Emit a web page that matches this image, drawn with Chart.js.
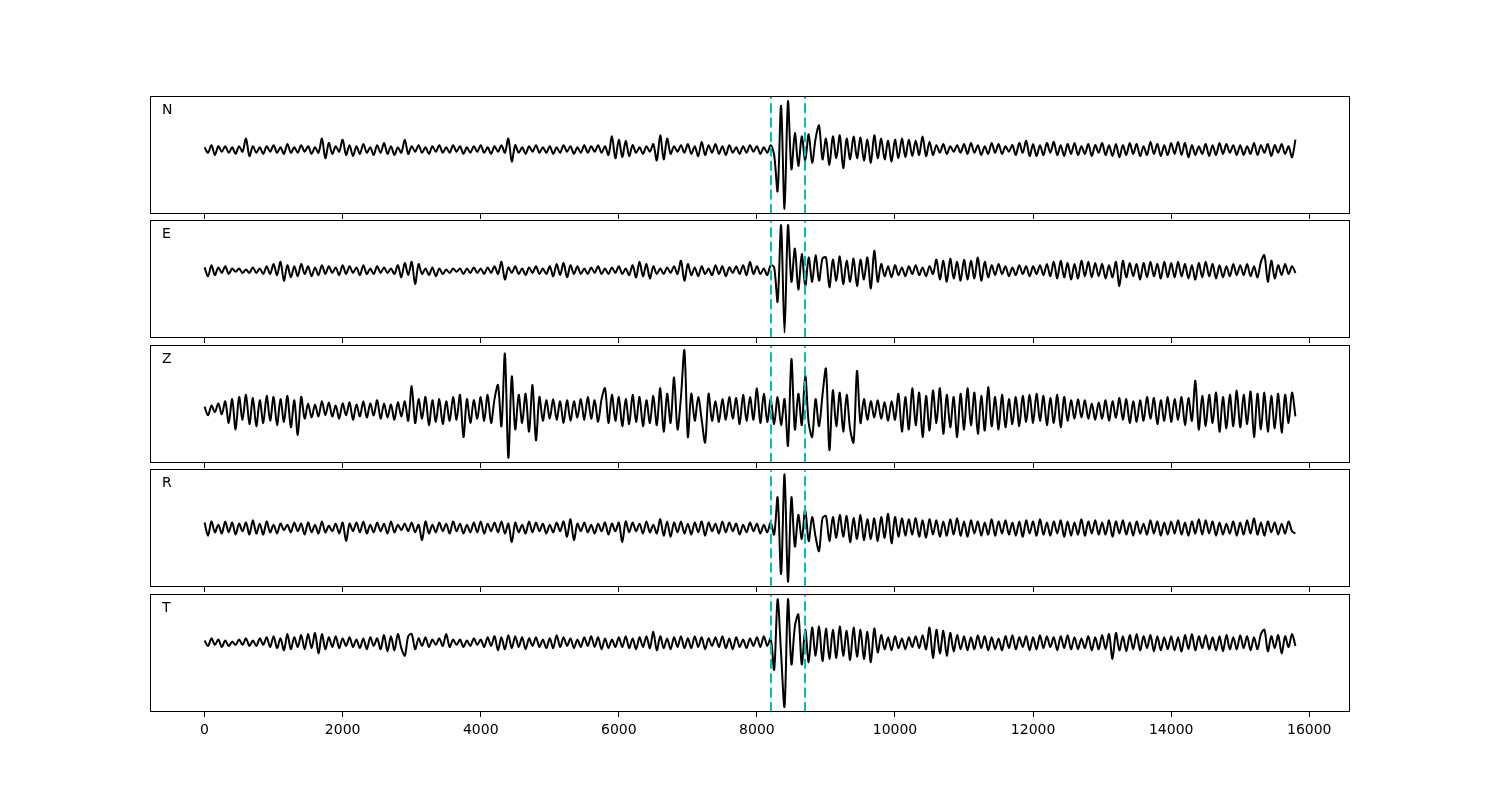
<!DOCTYPE html>
<html lang="en">
<head>
  <meta charset="UTF-8" />
  <title>Three-component record with picks</title>
  <script src="https://cdn.jsdelivr.net/npm/chart.js"></script>
  <style>
    body { margin: 0; background: #fff; }
    #fig { position: relative; width: 1500px; height: 800px; background: #fff; }
    .panel { position: absolute; left: 150px; width: 1200px; }
  </style>
</head>
<body>
  <div id="fig"></div>

  <script>
    // sample spacing of the traces below (x units)
    const step = 50;
    const components = ['N', 'E', 'Z', 'R', 'T'];
    const picks = [8200, 8700];
    const xTicks = [0, 2000, 4000, 6000, 8000, 10000, 12000, 14000, 16000];

    // amplitudes, one row per 1000 x units
    const traceN = [
      2,-3,4,-5,3,-2,3,-3,2,-4,3,-2,10,-6,3,-3,2,-4,3,-2,
      4,-3,2,-4,5,-3,2,-3,4,-2,3,-4,2,-3,10,-8,6,-4,3,-2,
      9,-5,4,-6,3,-4,5,-3,2,-5,4,-3,6,-4,3,-5,2,-3,9,-4,
      3,-2,4,-3,2,-4,3,-2,4,-3,2,-3,4,-2,3,-4,2,-3,3,-2,
      4,-3,2,-4,3,-2,4,-3,10,-11,4,-3,2,-4,3,-2,4,-3,2,-3,
      3,-4,2,-3,4,-2,3,-4,2,-3,4,-3,3,-2,4,-3,3,-5,12,-8,
      9,-7,8,-6,4,-3,2,-4,3,-2,5,-10,13,-9,10,-4,3,-2,4,-3,
      5,-4,3,-6,7,-5,4,-3,5,-4,3,-5,4,-3,2,-4,3,-3,4,-2,
      3,-4,2,-3,4,-5,-38,40,-54,44,-18,15,-15,12,-10,14,-12,10,22,-9,
      10,-14,12,-8,13,-17,10,-9,12,-8,11,-10,9,-12,13,-8,10,-9,8,-11,
      9,-8,10,-7,9,-6,8,-5,12,-6,7,-5,4,-3,5,-4,3,-2,4,-3,
      5,-4,6,-3,4,-5,3,-4,6,-3,5,-4,3,-2,4,-5,6,-3,8,-6,
      5,-6,4,-5,6,-3,7,-5,4,-6,5,-4,6,-5,3,-4,5,-6,4,-3,
      6,-5,4,-6,5,-7,4,-5,6,-4,5,-6,3,-5,7,-4,5,-6,4,-5,
      6,-4,7,-5,6,-7,4,-5,3,-4,5,-6,4,-5,6,-4,5,-3,4,-5,
      4,-5,3,-4,6,-5,4,-3,5,-6,4,-3,5,-4,3,-7,9
    ];
    const traceE = [
      3,-5,5,-4,3,-2,4,-3,2,-1,2,-2,1,-2,3,-2,2,-3,4,-3,
      6,-4,8,-9,5,-6,4,-5,6,-3,4,-5,3,-4,5,-3,4,-2,3,-4,
      5,-3,4,-2,3,-4,5,-3,2,-3,4,-2,3,-2,2,-3,5,-6,7,-4,
      8,-12,6,-3,2,-4,3,-5,2,-3,1,-2,2,-1,2,-3,2,-2,3,-2,
      2,-3,3,-2,4,-3,8,-8,3,-2,4,-3,2,-4,3,-2,4,-3,2,-3,
      4,-5,6,-4,7,-6,5,-3,4,-3,2,-3,3,-2,4,-3,2,-3,3,-2,
      4,-3,2,-4,5,-6,8,-5,6,-7,4,-3,2,-3,3,-2,4,-3,9,-9,
      6,-4,3,-5,4,-3,2,-4,5,-3,4,-5,3,-2,4,-3,5,-4,8,-3,
      4,-3,2,-4,5,3,-28,41,-56,41,-10,20,-17,15,-14,12,-10,14,-9,11,
      12,-15,10,-9,13,-12,9,-10,11,-14,10,-8,12,-16,18,-10,6,-5,4,-6,
      5,-4,3,-5,4,-3,5,-4,3,-5,4,-3,10,-8,9,-10,11,-7,8,-9,
      10,-8,9,-7,12,-9,8,-6,5,-4,6,-3,4,-5,3,-4,5,-3,4,-5,
      4,-3,5,-4,6,-5,8,-7,9,-6,7,-8,6,-7,9,-5,8,-6,7,-5,
      6,-7,5,-6,8,-14,9,-6,7,-5,6,-8,7,-6,8,-5,6,-7,8,-6,
      7,-6,8,-5,6,-7,5,-8,7,-6,8,-5,6,-7,5,-6,4,-5,6,-4,
      5,-4,6,-5,4,-6,8,14,-10,9,-7,5,-4,6,-3,4,-2
    ];
    const traceZ = [
      3,-5,4,-2,6,-4,8,-12,10,-18,12,-9,14,-13,11,-15,9,-12,13,-10,
      12,-14,10,-11,13,-16,9,-23,12,-8,6,-7,5,-6,8,-5,7,-6,4,-8,
      6,-5,7,-9,5,-6,8,-7,6,-5,9,-8,6,-7,5,-9,7,-6,8,-10,
      22,-12,10,-8,12,-14,9,-11,10,-13,8,-10,12,-9,14,-25,10,-12,9,-8,
      12,-10,14,-12,10,23,-15,52,-44,31,-18,14,-12,15,-20,23,-28,12,-10,9,
      -8,10,-9,8,-12,9,-10,8,-7,10,-9,12,-8,9,-11,10,20,-12,14,-10,
      12,-15,10,-13,14,-11,12,-15,9,-12,13,-14,20,-20,15,-12,30,-18,12,55,
      -25,15,-10,12,-9,-30,15,-10,8,-11,10,-9,12,-8,11,-13,14,-10,12,-9,
      20,-12,15,-11,10,-13,12,-14,10,-33,47,-18,15,-14,32,-12,-25,10,-15,14,
      38,-37,18,-15,16,-20,14,-18,-30,36,-12,10,-9,8,-7,9,-8,7,-10,8,
      -9,15,-20,12,-18,20,-14,16,-25,13,-19,18,-12,20,-22,14,-16,12,-25,15,
      -18,20,-14,16,-22,13,-19,21,-15,12,-18,14,-16,10,-13,12,-15,13,-11,14,
      -12,15,-10,13,-14,11,-12,14,-16,12,-10,9,-8,10,-7,9,-8,6,-9,7,
      -8,9,-10,8,-7,11,-9,10,-12,8,-11,9,-10,12,-8,11,-13,9,-10,12,
      -11,10,-9,12,-14,11,-10,27,-18,13,-15,14,-12,16,-20,12,-17,14,-15,18,
      -16,14,-13,17,-25,15,-18,16,-20,13,-17,15,-21,14,-12,16,-6
    ];
    const traceR = [
      5,-7,6,-4,3,-5,6,-4,5,-6,4,-3,5,-6,7,-5,4,-6,6,-4,
      3,-5,4,-2,3,-4,5,-3,4,-6,5,-4,3,-5,6,-4,2,-3,4,-5,
      5,-12,4,-3,5,-4,6,-5,3,-4,5,-3,4,-5,6,-4,3,-2,4,-3,
      5,-4,3,-11,6,-5,3,-4,5,-3,4,-5,6,-3,4,-5,3,-4,5,-4,
      6,-5,4,-3,5,-4,6,-5,4,-13,5,-4,3,-5,6,-4,5,-3,4,-5,
      3,-4,5,-3,6,-8,8,-11,4,-3,5,-4,3,-5,4,-3,5,-6,4,-3,
      5,-13,6,-4,5,-3,4,-5,6,-4,3,-5,8,-7,6,-8,5,-4,6,-5,
      4,-6,5,-4,6,-7,5,-3,4,-5,6,-4,5,-3,4,-6,3,-4,5,-3,
      4,-5,3,-4,5,-6,28,-42,49,-49,28,-17,12,-10,17,-12,10,-8,-21,9,
      11,-12,10,-9,12,-8,11,-13,9,-10,12,-11,8,-10,9,-12,10,-9,13,-14,
      10,-8,9,-7,8,-6,9,-8,7,-9,8,-6,7,-8,6,-7,8,-6,9,-7,
      6,-8,7,-5,6,-7,5,-6,8,-7,6,-5,7,-6,5,-7,6,-8,7,-5,
      6,-7,8,-6,5,-7,6,-5,7,-8,6,-7,5,-6,8,-7,6,-5,7,-6,
      5,-6,7,-8,6,-5,7,-6,5,-7,6,-5,4,-6,7,-5,6,-7,5,-6,
      6,-5,7,-6,5,-7,6,-5,8,-6,7,-5,6,-7,5,-6,4,-5,6,-7,
      5,-6,7,-5,9,-6,5,-7,6,-4,5,-6,4,-5,6,-3,-5
    ];
    const traceT = [
      2,-3,4,-2,3,-4,2,-3,1,-2,3,-2,4,-3,2,-3,4,-2,5,-4,
      6,-5,4,-7,8,-6,5,-4,7,-6,8,-5,9,-10,8,-6,5,-4,6,-5,
      4,-3,5,-4,3,-5,4,-6,5,-3,4,-6,7,-8,6,-7,8,-5,-12,6,
      8,-6,4,-3,5,-4,3,-2,4,-3,8,-4,3,-2,3,-4,2,-3,4,-2,
      3,-4,5,-3,6,-7,5,-6,7,-5,6,-4,5,-6,4,-3,5,-4,3,-5,
      4,-5,7,-4,5,-3,4,-5,3,-4,5,-3,6,-4,5,-6,4,-5,3,-4,
      5,-4,6,-5,4,-6,5,-4,6,-5,10,-7,6,-5,4,-6,5,-4,6,-5,
      4,-5,6,-4,5,-6,4,-3,5,-4,6,-5,4,-6,5,-4,3,-5,4,-3,
      5,-4,6,-3,4,-25,40,-10,-59,40,-20,15,26,-20,12,-18,14,-12,15,-17,
      13,-15,12,-14,15,-12,11,-16,14,-13,12,-15,10,-18,13,-9,7,-6,5,-7,
      6,-5,4,-6,5,-4,6,-5,7,-6,14,-14,12,-10,11,-12,9,-8,7,-6,
      6,-7,5,-6,7,-5,6,-7,5,-6,4,-7,6,-5,7,-6,5,-4,6,-7,
      5,-6,7,-5,6,-4,5,-7,6,-5,7,-6,5,-6,4,-5,6,-7,5,-6,
      7,-6,8,-15,9,-7,6,-8,7,-6,8,-7,6,-5,7,-8,6,-7,5,-6,
      6,-7,5,-8,7,-6,8,-7,6,-5,7,-6,5,-7,6,-8,7,-6,5,-6,
      7,-5,6,-7,5,-6,8,12,-8,6,-5,7,-10,6,-4,8,-3
    ];
    const traces = [traceN, traceE, traceZ, traceR, traceT];

    const panelTop = [96, 220, 345, 469, 594];
    const panelH = 118;
    const fig = document.getElementById('fig');

    // frame, component letter and the two dashed picks
    const decor = {
      id: 'decor',
      afterDatasetsDraw(chart, args, opts) {
        const { ctx, chartArea: a, scales } = chart;
        ctx.save();
        ctx.strokeStyle = '#00bfbf';
        ctx.lineWidth = 2;
        ctx.setLineDash([10, 4.4]);
        picks.forEach(p => {
          const x = Math.round(scales.x.getPixelForValue(p));
          ctx.beginPath();
          ctx.moveTo(x, a.bottom);
          ctx.lineTo(x, a.top);
          ctx.stroke();
        });
        ctx.setLineDash([]);
        ctx.strokeStyle = '#000';
        ctx.lineWidth = 1;
        ctx.strokeRect(a.left + 0.5, a.top + 0.5, a.right - a.left - 1, a.bottom - a.top - 1);
        ctx.fillStyle = '#000';
        ctx.font = '14px "DejaVu Sans"';
        ctx.textBaseline = 'alphabetic';
        ctx.fillText(opts.label, a.left + 12, a.top + 18);
        ctx.restore();
      }
    };

    components.forEach((name, i) => {
      const last = i === components.length - 1;
      const axisH = last ? 34 : 6;
      const box = document.createElement('div');
      box.className = 'panel';
      box.style.top = panelTop[i] + 'px';
      box.style.height = (panelH + axisH) + 'px';
      const cv = document.createElement('canvas');
      box.appendChild(cv);
      fig.appendChild(box);

      const ys = traces[i];
      const lo = Math.min(...ys), hi = Math.max(...ys);
      const pad = 0.05 * (hi - lo);

      new Chart(cv, {
        type: 'line',
        data: {
          datasets: [{
            label: name,
            data: ys.map((v, k) => ({ x: k * step, y: v })),
            borderColor: '#000',
            borderWidth: 2,
            pointRadius: 0,
            tension: 0.3
          }]
        },
        options: {
          responsive: true,
          maintainAspectRatio: false,
          animation: false,
          layout: { padding: 0 },
          plugins: {
            legend: { display: false },
            tooltip: { enabled: false },
            decor: { label: name }
          },
          scales: {
            x: {
              type: 'linear',
              min: -790,
              max: 16590,
              afterBuildTicks: s => { s.ticks = xTicks.map(v => ({ value: v })); },
              afterFit: s => { s.height = axisH; },
              border: { display: false },
              grid: { drawOnChartArea: false, drawTicks: true, tickLength: 5, color: '#000' },
              ticks: {
                display: last,
                color: '#000',
                padding: 5,
                maxRotation: 0,
                callback: v => String(v),
                font: { family: 'DejaVu Sans', size: 14 }
              }
            },
            y: {
              display: false,
              min: lo - pad,
              max: hi + pad
            }
          }
        },
        plugins: [decor]
      });
    });
  </script>
</body>
</html>
